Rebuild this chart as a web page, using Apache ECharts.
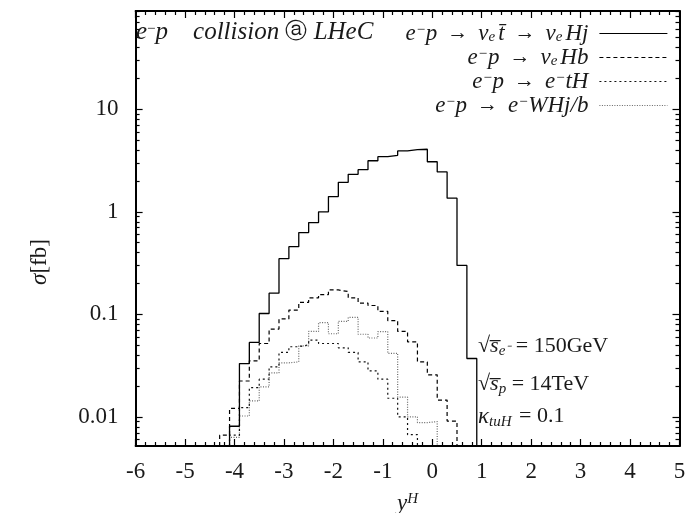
<!DOCTYPE html>
<html>
<head>
<meta charset="utf-8">
<script src="https://cdn.jsdelivr.net/npm/echarts@6/dist/echarts.min.js"></script>
<style>
html,body{margin:0;padding:0;background:#fff;}
#chart{width:687px;height:513px;}
</style>
</head>
<body>
<div id="chart"></div>
<script>
// ---------------- data ----------------
const binWidth = 0.2;
const yMin = 0.0052, yMax = 91;

// e- p -> nu_e tbar -> nu_e H j  (solid), first bin starts at -4.1
const solidStart = -4.1;
const solidValues = [0.0081, 0.0331, 0.0532, 0.102, 0.161, 0.349, 0.457, 0.628, 0.786, 1.00,
  1.41, 1.94, 2.32, 2.58, 3.15, 3.45, 3.56, 3.93, 4.04, 4.08,
  3.08, 2.45, 1.36, 0.300, 0.0371];

// e- p -> nu_e H b  (dashed), first bin starts at -4.3
const hbStart = -4.3;
const hbValues = [0.00663, 0.0121, 0.0224, 0.0352, 0.0520, 0.0719, 0.0902, 0.110, 0.131, 0.145,
  0.156, 0.173, 0.167, 0.145, 0.129, 0.122, 0.107, 0.0867, 0.0682, 0.0540,
  0.0344, 0.0257, 0.0146, 0.0091];

// e- p -> e- t H  (short dashes), first bin starts at -4.1
const tHStart = -4.1;
const tHValues = [0.00663, 0.0123, 0.0193, 0.0233, 0.0308, 0.0425, 0.0483, 0.0505, 0.0561, 0.0520,
  0.0520, 0.0472, 0.0425, 0.0344, 0.0281, 0.0233, 0.0152, 0.0100, 0.0067];

// e- p -> e- W H j/b  (fine dots), first bin starts at -4.1
const whStart = -4.1;
const whValues = [0.0063, 0.0102, 0.0143, 0.0196, 0.0269, 0.0337, 0.0344, 0.0493, 0.0682, 0.0830,
  0.0647, 0.0855, 0.0935, 0.0640, 0.0588, 0.0678, 0.0417, 0.0156, 0.0100, 0.0088, 0.0090];

const seriesNames = ['tj', 'hb', 'th', 'whj'];
const legendLabels = [
  '{i|e}{sup|−}{i|p}{r|→}{i|ν}{sub|e}{i|t\u0304}{r|→}{i|ν}{sub|e}{i|Hj}{gap| }',
  '{i|e}{sup|−}{i|p}{r|→}{i|ν}{sub|e}{i|Hb}{gap| }',
  '{i|e}{sup|−}{i|p}{r|→}{i|e}{sup|−}{i|tH}{gap| }',
  '{i|e}{sup|−}{i|p}{r|→}{i|e}{sup|−}{i|WHj/b}{gap| }'
];

const xTicks = [-6, -5, -4, -3, -2, -1, 0, 1, 2, 3, 4, 5];
const yMajorTicks = [0.01, 0.1, 1, 10];
const yTickLabels = ['0.01', '0.1', '1', '10'];
const yMinorTicks = [0.006, 0.007, 0.008, 0.009, 0.02, 0.03, 0.04, 0.05, 0.06, 0.07, 0.08, 0.09,
  0.2, 0.3, 0.4, 0.5, 0.6, 0.7, 0.8, 0.9, 2, 3, 4, 5, 6, 7, 8, 9, 20, 30, 40, 50, 60, 70, 80, 90];

// ---------------- helpers ----------------
function histPoints(start, values) {
  const pts = [[start, yMin]];
  values.forEach((v, i) => pts.push([start + i * binWidth, v]));
  const end = start + values.length * binWidth;
  pts.push([end, values[values.length - 1]]);
  pts.push([end, yMin]);
  return pts;
}

const FONT = 'Liberation Serif';
const TXT = '#1a1a1a';
const richBase = {
  i: {fontFamily: FONT, fontStyle: 'italic', fontSize: 23, color: TXT, lineHeight: 22},
  r: {fontFamily: FONT, fontSize: 21, color: TXT, lineHeight: 22, padding: [0, 10, 0, 10]},
  sup: {fontFamily: FONT, fontStyle: 'italic', fontSize: 15, color: TXT, lineHeight: 12, verticalAlign: 'top'},
  sub: {fontFamily: FONT, fontStyle: 'italic', fontSize: 15, color: TXT, lineHeight: 8, verticalAlign: 'bottom', padding: [0, 3, 0, 0]},
  gap: {width: 6, fontSize: 21, lineHeight: 22}
};

const chart = echarts.init(document.getElementById('chart'), null, {renderer: 'canvas'});

const axisLineStyle = {color: '#000', width: 2};

function xAxisDef(pos, labels) {
  return {
    type: 'value', position: pos, min: -6, max: 5, interval: 1,
    axisLine: {show: true, onZero: false, lineStyle: axisLineStyle},
    axisTick: {show: true, inside: true, length: 7, lineStyle: {color: '#000', width: 1.2}},
    minorTick: {show: true, splitNumber: 5, length: 4, lineStyle: {color: '#000', width: 1.2}},
    splitLine: {show: false},
    axisLabel: labels ? {show: true, margin: 14, fontFamily: FONT, fontSize: 23, color: TXT,
      formatter: v => (xTicks.indexOf(v) >= 0 ? String(v) : '')} : {show: false},
    name: labels ? '{i|y}{sup|H}' : '',
    nameLocation: 'middle', nameGap: 46,
    nameTextStyle: {rich: {
      i: {fontFamily: FONT, fontStyle: 'italic', fontSize: 23, color: TXT, lineHeight: 24},
      sup: {fontFamily: FONT, fontStyle: 'italic', fontSize: 15, color: TXT, lineHeight: 14, verticalAlign: 'top'}
    }}
  };
}

function yAxisDef(pos, kind) {
  const major = kind === 'major';
  return {
    type: 'log', logBase: 10, position: pos, min: yMin, max: yMax,
    axisLine: {show: major, onZero: false, lineStyle: axisLineStyle},
    axisTick: {show: true, inside: true, length: major ? 7 : 4,
      customValues: major ? yMajorTicks : yMinorTicks,
      lineStyle: {color: '#000', width: 1.2}},
    minorTick: {show: false},
    splitLine: {show: false},
    axisLabel: (major && pos === 'left') ? {show: true, margin: 17, fontFamily: FONT, fontSize: 23, color: TXT,
      customValues: yMajorTicks, padding: [7, 0, 0, 0],
      formatter: v => { const k = yMajorTicks.findIndex(t => Math.abs(t - v) / t < 1e-6); return k >= 0 ? yTickLabels[k] : ''; }
    } : {show: false}
  };
}

const styles = [
  {color: '#000', width: 1.3, type: 'solid'},
  {color: '#000', width: 1.2, type: [4, 3]},
  {color: '#111', width: 1.2, type: [2, 3]},
  {color: '#666', width: 1.2, type: [1, 1.5]}
];
const datasets = [
  histPoints(solidStart, solidValues),
  histPoints(hbStart, hbValues),
  histPoints(tHStart, tHValues),
  histPoints(whStart, whValues)
];

const option = {
  animation: false,
  backgroundColor: '#fff',
  grid: {left: 135.6, right: 7.5, top: 11, bottom: 67, containLabel: false, outerBoundsMode: 'none'},
  xAxis: [xAxisDef('bottom', true), xAxisDef('top', false)],
  yAxis: [yAxisDef('left', 'major'), yAxisDef('left', 'minor'), yAxisDef('right', 'major'), yAxisDef('right', 'minor')],
  legend: {
    orient: 'vertical', align: 'right', right: 14, top: 17,
    itemWidth: 68, itemHeight: 14, itemGap: 1, padding: 5,
    data: seriesNames,
    itemStyle: {opacity: 0, color: 'rgba(0,0,0,0)', borderWidth: 0},
    lineStyle: {width: 1.2},
    formatter: name => legendLabels[seriesNames.indexOf(name)],
    textStyle: {rich: richBase}
  },
  series: seriesNames.map((n, k) => ({
    name: n, type: 'line', step: 'end', xAxisIndex: 0, yAxisIndex: 0,
    symbol: 'none', showSymbol: false, clip: true,
    lineStyle: styles[k], itemStyle: {color: styles[k].color},
    data: datasets[k], z: 10 - k
  })),
  graphic: [
    {type: 'text', x: 40, y: 262, rotation: Math.PI / 2, z: 20, style: {
      text: '{i|σ}{r|[fb]}', align: 'center', verticalAlign: 'middle',
      rich: {
        i: {fontFamily: FONT, fontStyle: 'italic', fontSize: 23, fill: TXT, lineHeight: 24},
        r: {fontFamily: FONT, fontSize: 23, fill: TXT, lineHeight: 24}
      }}},
    {type: 'text', left: 136, top: 20, z: 20, style: {
      text: '{i|e}{sup|−}{i|p    collision }{r|ⓐ}{i| LHeC}',
      rich: {
        i: {fontFamily: FONT, fontStyle: 'italic', fontSize: 25, fill: TXT, lineHeight: 22},
        r: {fontFamily: 'DejaVu Sans', fontSize: 22, fill: TXT, lineHeight: 22},
        sup: {fontFamily: FONT, fontSize: 15, fill: TXT, lineHeight: 12, verticalAlign: 'top'}
      }}},
    {type: 'text', left: 478, top: 335, z: 20, style: {
      text: '{r|√}{i|s\u0305}{sub|e⁻}{r| = 150GeV}',
      rich: {
        i: {fontFamily: FONT, fontStyle: 'italic', fontSize: 22, fill: TXT, lineHeight: 26},
        r: {fontFamily: FONT, fontSize: 22, fill: TXT, lineHeight: 26},
        sub: {fontFamily: FONT, fontStyle: 'italic', fontSize: 15, fill: TXT, lineHeight: 10, verticalAlign: 'bottom'}
      }}},
    {type: 'text', left: 478, top: 373, z: 20, style: {
      text: '{r|√}{i|s\u0305}{sub|p}{r| = 14TeV}',
      rich: {
        i: {fontFamily: FONT, fontStyle: 'italic', fontSize: 22, fill: TXT, lineHeight: 26},
        r: {fontFamily: FONT, fontSize: 22, fill: TXT, lineHeight: 26},
        sub: {fontFamily: FONT, fontStyle: 'italic', fontSize: 15, fill: TXT, lineHeight: 10, verticalAlign: 'bottom'}
      }}},
    {type: 'text', left: 478, top: 405, z: 20, style: {
      text: '{i|κ}{sub|tuH}{r| = 0.1}',
      rich: {
        i: {fontFamily: FONT, fontStyle: 'italic', fontSize: 23, fill: TXT, lineHeight: 26},
        r: {fontFamily: FONT, fontSize: 22, fill: TXT, lineHeight: 26},
        sub: {fontFamily: FONT, fontStyle: 'italic', fontSize: 15, fill: TXT, lineHeight: 10, verticalAlign: 'bottom', padding: [0, 2, 0, 0]}
      }}}
  ]
};
chart.setOption(option);
</script>
</body>
</html>
